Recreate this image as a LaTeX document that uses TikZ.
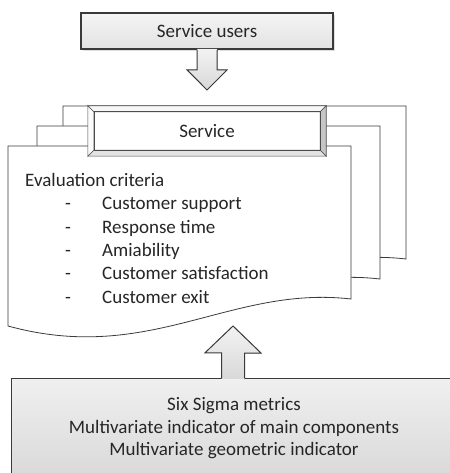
\documentclass[tikz,border=0pt]{standalone}
\usepackage{fontspec}
\setmainfont{Carlito}
\usetikzlibrary{calc,shadows}
\definecolor{edgegray}{HTML}{3A3A3A}
\definecolor{inkgray}{HTML}{262626}
\tikzset{txt/.style={font=\fontsize{19}{22.5}\selectfont,text=inkgray,inner sep=0pt},
	headbox/.style={draw=edgegray,line width=1.3pt,top color=gray!8,bottom color=gray!22,
		minimum width=252pt,minimum height=36pt,
		drop shadow={opacity=0.25,shadow xshift=1.5pt,shadow yshift=-2pt}},
	arrowshade/.style={top color=gray!10,bottom color=gray!30},
	arrowline/.style={draw=edgegray,line width=1pt,line join=miter},
	docpage/.style={draw=edgegray,line width=0.8pt,fill=white},
	servicebox/.style={fill=white,minimum width=238pt,minimum height=50pt},
	bevel/.style={draw=gray!60!black,line width=0.6pt},
	metricbox/.style={draw=edgegray,line width=1pt,top color=gray!12,bottom color=gray!30,
		minimum width=445pt,minimum height=100pt,align=center}}

\begin{document}
\begin{tikzpicture}[x=1pt,y=-1pt]
\useasboundingbox (0,0) rectangle (449,473);
\foreach \dx/\dy in {55/-40,29/-20,0/0}{
  \begin{scope}[shift={(\dx,\dy)}]
    \draw[docpage] (8,146) -- (351,146) -- (351,299)
      .. controls (230,285) and (150,365) .. (8,326) -- cycle;
  \end{scope}
}
\node[txt,servicebox] (service) at (207,131) {Service};
\coordinate (snw) at ($(service.north west)+(6,6)$);
\coordinate (sne) at ($(service.north east)+(-6,6)$);
\coordinate (sse) at ($(service.south east)+(-6,-6)$);
\coordinate (ssw) at ($(service.south west)+(6,-6)$);
\filldraw[bevel,fill=gray!6] (service.north west) -- (service.north east) -- (sne) -- (snw) -- cycle;
\filldraw[bevel,fill=gray!45] (service.north east) -- (service.south east) -- (sse) -- (sne) -- cycle;
\filldraw[bevel,fill=gray!22] (service.south east) -- (service.south west) -- (ssw) -- (sse) -- cycle;
\filldraw[bevel,fill=gray!3] (service.south west) -- (service.north west) -- (snw) -- (ssw) -- cycle;
\draw[bevel] (snw) rectangle (sse);

\node[txt,anchor=base west] (evalhead) at (25,186) {Evaluation criteria};
\foreach \n/\y/\t in {1/209/Customer support,2/233/Response time,3/256/Amiability,
                      4/279/Customer satisfaction,5/303/Customer exit}{
  \node[txt,anchor=base west] (dash\n) at (65,\y) {-};
  \node[txt,anchor=base west] (item\n) at (102,\y) {\t};
}

\node[txt,headbox] (users) at (207,31) {Service users};
\coordinate (usertip) at (207,90);
\coordinate (userfoot) at ($(users.south -| usertip)+(0,-0.8)$);
\fill[arrowshade] ($(userfoot)+(-10,0)$) -- ++(0,21) -- ++(-10,0) -- (usertip)
  -- ++(20,-20) -- ++(-10,0) -- ++(0,-21) -- cycle;
\draw[arrowline] ($(userfoot)+(-10,0.8)$) -- ++(0,20.2) -- ++(-10,0) -- (usertip)
  -- ++(20,-20) -- ++(-10,0) -- ++(0,-20.2);

\node[txt,metricbox,anchor=north west] (metrics) at (11,378)
  {Six Sigma metrics\\Multivariate indicator of main components\\Multivariate geometric indicator};
\coordinate (metrictip) at (233,326);
\coordinate (metricfoot) at ($(metrics.north -| metrictip)+(0,0.8)$);
\fill[arrowshade] ($(metricfoot)+(-11.5,0)$) -- ++(0,-26) -- ++(-16.5,0) -- (metrictip)
  -- ++(28,27) -- ++(-16.5,0) -- ++(0,26) -- cycle;
\draw[arrowline] ($(metricfoot)+(-11.5,-0.8)$) -- ++(0,-25.2) -- ++(-16.5,0) -- (metrictip)
  -- ++(28,27) -- ++(-16.5,0) -- ++(0,25.2);
\end{tikzpicture}
\end{document}
